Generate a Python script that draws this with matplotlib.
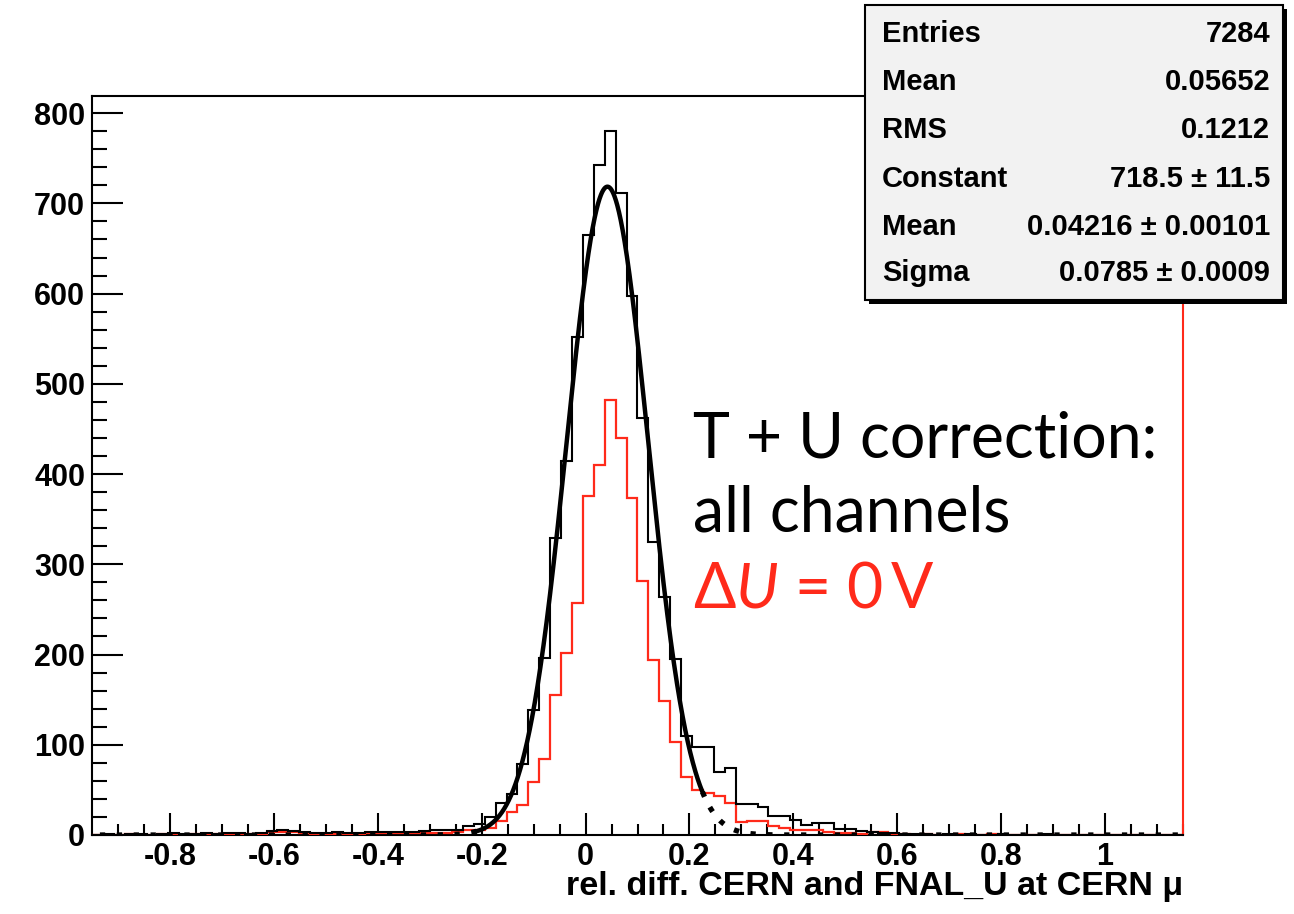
import numpy as np
import matplotlib
matplotlib.use("Agg")
import matplotlib.pyplot as plt
from matplotlib.patches import Rectangle

plt.rcParams['axes.unicode_minus'] = False
plt.rcParams['mathtext.fontset'] = 'custom'
plt.rcParams['mathtext.rm'] = 'Lato'
plt.rcParams['mathtext.it'] = 'Lato:italic'

# ---- data ----
x_lo, x_hi, n_bins = -0.95, 1.15, 100

all_counts = [0, 1, 0, 1, 1, 0, 1, 2, 1, 1,
              2, 1, 2, 2, 1, 2, 4, 5, 4, 3,
              2, 2, 3, 2, 2, 3, 3, 3, 3, 3,
              4, 5, 5, 6, 10, 12, 20, 36, 45, 79,
              138, 196, 329, 415, 552, 665, 743, 780, 711, 597,
              462, 325, 264, 195, 110, 98, 97, 70, 74, 34,
              34, 31, 21, 21, 17, 11, 13, 13, 7, 7,
              4, 3, 2, 2, 1, 1, 1, 0, 1, 0,
              1, 0, 0, 1, 0, 0, 0, 1, 0, 0,
              0, 0, 0, 0, 0, 0, 0, 0, 0, 0]

du0_counts = [0, 0, 0, 1, 0, 0, 1, 1, 0, 1,
              1, 1, 1, 1, 1, 1, 3, 3, 3, 2,
              1, 1, 1, 1, 1, 2, 2, 2, 2, 2,
              2, 2, 2, 3, 5, 5, 8, 15, 25, 33,
              59, 84, 155, 202, 257, 376, 410, 482, 440, 373,
              281, 194, 149, 103, 64, 50, 47, 43, 36, 14,
              15, 16, 10, 8, 5, 5, 6, 3, 2, 2,
              1, 3, 3, 1, 1, 0, 1, 0, 0, 1,
              0, 0, 1, 0, 0, 0, 0, 0, 0, 0,
              0, 0, 0, 0, 0, 0, 0, 0, 0, 0]

fit_const, fit_mean, fit_sigma = 718.5, 0.04216, 0.0785
fit_lo, fit_hi = -0.21, 0.225

stat_names = ["Entries", "Mean", "RMS", "Constant", "Mean", "Sigma"]
stat_values = ["7284", "0.05652", "0.1212", "718.5 \u00b1 11.5",
               "0.04216 \u00b1 0.00101", "0.0785 \u00b1 0.0009"]

x_ticks = [-0.8, -0.6, -0.4, -0.2, 0, 0.2, 0.4, 0.6, 0.8, 1.0]
x_tick_labels = ["-0.8", "-0.6", "-0.4", "-0.2", "0", "0.2", "0.4", "0.6", "0.8", "1"]
y_ticks = [0, 100, 200, 300, 400, 500, 600, 700, 800]

edges = np.linspace(x_lo, x_hi, n_bins + 1)


def gaus(x):
    return fit_const * np.exp(-0.5 * ((x - fit_mean) / fit_sigma) ** 2)


W, H = 1294, 914
fig = plt.figure(figsize=(W / 100, H / 100), dpi=100)
ax = fig.add_axes([92 / W, 1 - 835 / H, (1183 - 92) / W, (835 - 96) / H])

ax.stairs(du0_counts, edges, color='#ff2a1a', lw=1.6, zorder=3)
ax.stairs(all_counts, edges, color='black', lw=1.5, zorder=4)

# gaussian fit: solid inside fit range, dotted outside
dot_style = dict(color='black', lw=3.8, ls=(0, (1, 2.2)), dash_capstyle='butt', zorder=5)
xr = np.linspace(fit_hi, x_hi, 1500)
ax.plot(xr, gaus(xr), **dot_style)
xl = np.linspace(fit_lo, x_lo, 1500)
ax.plot(xl, gaus(xl), **dot_style)
xf = np.linspace(fit_lo, fit_hi, 800)
ax.plot(xf, gaus(xf), color='black', lw=3.2, zorder=6)

ax.set_xlim(x_lo, x_hi)
ax.set_ylim(0, 819)
ax.set_xticks(x_ticks)
ax.set_xticklabels(x_tick_labels)
ax.set_xticks(np.arange(-0.9, 1.151, 0.05), minor=True)
ax.set_yticks(y_ticks)
ax.set_yticks(np.arange(0, 819, 20), minor=True)

for lab in ax.get_xticklabels() + ax.get_yticklabels():
    lab.set_fontfamily('Liberation Sans')
    lab.set_fontweight('bold')
    lab.set_fontsize(22)

ax.tick_params(axis='x', which='major', direction='in', length=16, width=1.5, pad=5)
ax.tick_params(axis='x', which='minor', direction='in', length=8, width=1.5)
ax.tick_params(axis='y', which='major', direction='in', length=22, width=1.5, pad=5)
ax.tick_params(axis='y', which='minor', direction='in', length=11, width=1.5)

for side in ['left', 'top', 'bottom']:
    ax.spines[side].set_linewidth(1.5)
ax.spines['right'].set_color('#ff2a1a')
ax.spines['right'].set_linewidth(1.5)

ax.set_xlabel("rel. diff. CERN and FNAL_U at CERN \u03bc", fontfamily='Liberation Sans',
              fontweight='bold', fontsize=24.5, ha='right', va='top')
ax.xaxis.set_label_coords(1.0, -(871 - 835) / (835 - 96))

# annotation
ann_font = dict(family='Lato', size=45)
fig.text(693 / W, 1 - 457 / H, "T + U correction:", color='black', **ann_font)
fig.text(693 / W, 1 - 531 / H, "all channels", color='black', **ann_font)
fig.text(693 / W, 1 - 607 / H, r"$\Delta\mathit{U}$ = 0$\,$V", color='#ff2a1a', **ann_font)

# stats box with shadow
bx0, bx1, by0, by1 = 865, 1283, 5, 300
shadow = Rectangle(((bx0 + 4) / W, 1 - (by1 + 4) / H), (bx1 - bx0) / W, (by1 - by0) / H,
                   transform=fig.transFigure, facecolor='black', edgecolor='none', zorder=20)
box = Rectangle((bx0 / W, 1 - by1 / H), (bx1 - bx0) / W, (by1 - by0) / H,
                transform=fig.transFigure, facecolor='#f2f2f2', edgecolor='black', lw=1.5, zorder=21)
fig.patches.extend([shadow, box])

row_y = [34, 82, 130, 179, 227, 273]
for name, val, yy in zip(stat_names, stat_values, row_y):
    fig.text(882 / W, 1 - yy / H, name, ha='left', va='center', fontfamily='Liberation Sans',
             fontweight='bold', fontsize=21, zorder=22)
    fig.text(1270 / W, 1 - yy / H, val, ha='right', va='center', fontfamily='Liberation Sans',
             fontweight='bold', fontsize=21, zorder=22)

fig.savefig("out.png", dpi=100)
